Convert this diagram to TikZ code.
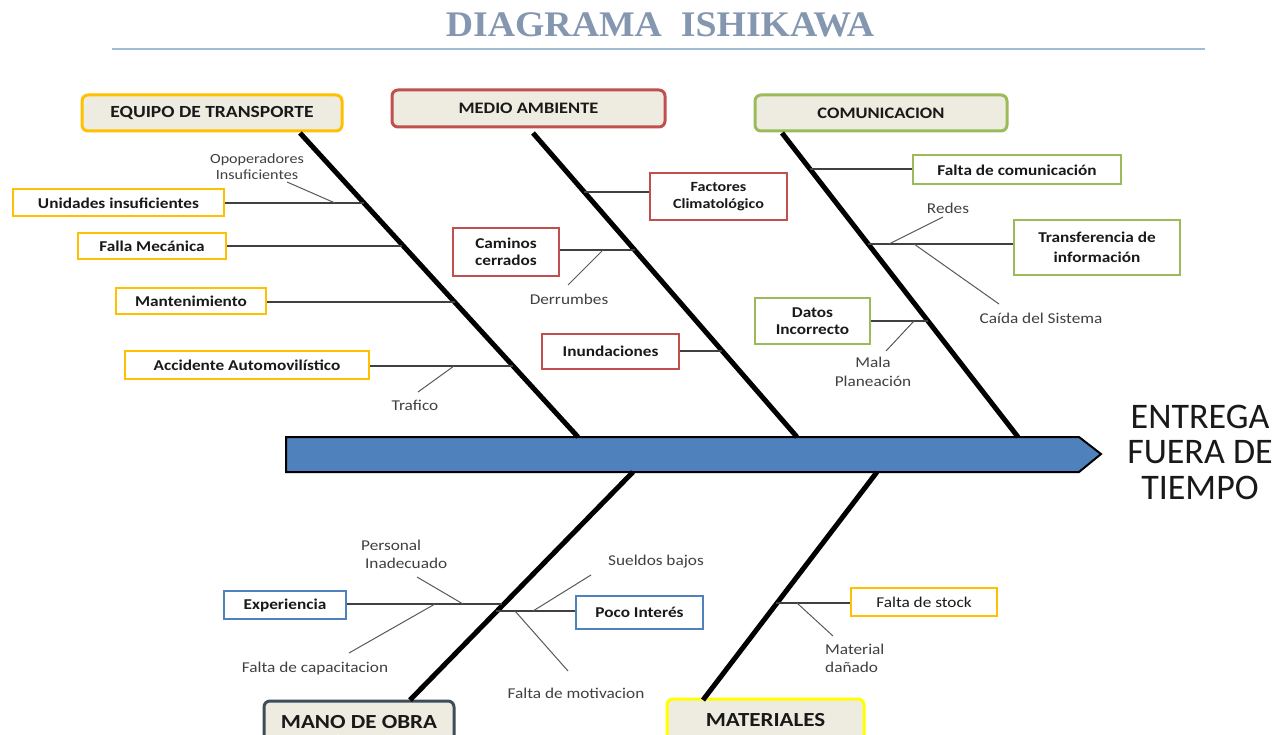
\documentclass[tikz,border=0pt]{standalone}
\usepackage{fontspec}
\setmainfont{Carlito}
\newfontfamily\lbl[FakeStretch=1.15]{Carlito}
\newfontfamily\headf{Carlito}
\newfontfamily\ttl[FakeStretch=1.05]{Liberation Serif}
\usetikzlibrary{calc}
\definecolor{beige}{HTML}{EEECE1}
\definecolor{cOrange}{HTML}{FFC000}
\definecolor{cRed}{HTML}{C0504D}
\definecolor{cGreen}{HTML}{9BBB59}
\definecolor{cBlue}{HTML}{4F81BD}
\definecolor{cSlate}{RGB}{62,76,92}
\definecolor{cYellow}{HTML}{FFFF00}
\definecolor{cTitle}{RGB}{132,150,176}
\definecolor{cRule}{RGB}{160,186,218}
\definecolor{cSpine}{HTML}{4F81BD}
\tikzset{
  hdr/.style={draw, line width=3pt, rounded corners=6pt, fill=beige, inner sep=0pt,
    font=\lbl\bfseries\fontsize{17}{20}\selectfont, text=black!90},
  cbox/.style={draw, line width=2pt, fill=white, inner sep=0pt, align=center,
    font=\lbl\bfseries\fontsize{15}{17}\selectfont, text=black!90},
  sublbl/.style={inner sep=0pt, align=center, font=\lbl\fontsize{15}{18}\selectfont, text=black!75},
  bone/.style={line width=5pt, black},
  twig/.style={line width=1.6pt, black!75},
  leaf/.style={line width=1pt, black!65}
}
\begin{document}
\begin{tikzpicture}[x=1pt,y=-1pt]
\useasboundingbox (0,0) rectangle (1288,735);
\clip (0,0) rectangle (1288,735);
\fill[white] (0,0) rectangle (1288,735);

% title
\node[text=cTitle, inner sep=0pt, font=\ttl\bfseries\fontsize{36}{36}\selectfont] (title) at (660,25) {DIAGRAMA\ \ ISHIKAWA};
\coordinate (ruleL) at (112,49);
\coordinate (ruleR) at (1205,49);
\draw[line width=2pt, cRule] (ruleL) -- (ruleR);

% spine
\draw[line width=2pt, fill=cSpine] (286,437) -- (1079,437) -- (1101,454) -- (1079,472) -- (286,472) -- cycle;
\node[inner sep=0pt, align=center, font=\headf\fontsize{36}{35.5}\selectfont, text=black!90] (effect) at (1200,452) {ENTREGA\\FUERA DE\\TIEMPO};

% headers
\node[hdr, draw=cOrange, minimum width=260pt, minimum height=36pt] (hEq) at (212,113) {EQUIPO DE TRANSPORTE};
\node[hdr, draw=cRed, minimum width=273pt, minimum height=37pt, font=\lbl\bfseries\fontsize{16}{19}\selectfont] (hMed) at (528.5,108.5) {MEDIO AMBIENTE};
\node[hdr, draw=cGreen, minimum width=252pt, minimum height=36pt, font=\lbl\bfseries\fontsize{16}{19}\selectfont] (hCom) at (881,113) {COMUNICACION};
\node[hdr, draw=cSlate, minimum width=190pt, minimum height=42pt, font=\lbl\bfseries\fontsize{20}{24}\selectfont] (hMan) at (359,722) {MANO DE OBRA};
\node[hdr, draw=cYellow, minimum width=197pt, minimum height=42pt, font=\lbl\bfseries\fontsize{20}{24}\selectfont] (hMat) at (765.5,720) {MATERIALES};

% bones
\coordinate (b1t) at (300,133); \coordinate (b1b) at (578,437);
\coordinate (b2t) at (533,133); \coordinate (b2b) at (797,437);
\coordinate (b3t) at (782,133); \coordinate (b3b) at (1018,437);
\coordinate (b4t) at (633,472); \coordinate (b4b) at (410,700);
\coordinate (b5t) at (877,472); \coordinate (b5b) at (703,700);
\draw[bone] (b1t) -- (b1b);
\draw[bone] (b2t) -- (b2b);
\draw[bone] (b3t) -- (b3b);
\draw[bone] (b4t) -- (b4b);
\draw[bone] (b5t) -- (b5b);

% ---- Equipo de transporte
\node[cbox, draw=cOrange, minimum width=211pt, minimum height=27pt] (bUni) at (118.5,203) {Unidades insuficientes};
\node[cbox, draw=cOrange, minimum width=148pt, minimum height=26pt] (bFal) at (152,246) {Falla Mecánica};
\node[cbox, draw=cOrange, minimum width=150pt, minimum height=26pt] (bMan) at (191,301) {Mantenimiento};
\node[cbox, draw=cOrange, minimum width=244pt, minimum height=27pt] (bAcc) at (247,365) {Accidente Automovilístico};
\node[sublbl, font=\lbl\fontsize{14}{16}\selectfont] (lOpo) at (257,167) {Opoperadores\\Insuficientes};
\node[sublbl] (lTraf) at (415,405) {Trafico};
\coordinate (j11) at (364,203);
\coordinate (j12) at (402,246);
\coordinate (j13) at (455,302);
\coordinate (j14) at (513,366);
\draw[twig] (j11) -- (j11 -| bUni.east);
\draw[twig] (j12) -- (j12 -| bFal.east);
\draw[twig] (j13) -- (j13 -| bMan.east);
\draw[twig] (j14) -- (j14 -| bAcc.east);
\coordinate (s11a) at (335,203); \coordinate (s11b) at (287,182);
\coordinate (s14a) at (454,366); \coordinate (s14b) at (418,392);
\draw[leaf] (s11a) -- (s11b);
\draw[leaf] (s14a) -- (s14b);

% ---- Medio ambiente
\node[cbox, draw=cRed, minimum width=137pt, minimum height=47pt, font=\lbl\bfseries\fontsize{14}{17}\selectfont] (bFac) at (718.5,196.5) {Factores\\Climatológico};
\node[cbox, draw=cRed, minimum width=106pt, minimum height=48pt] (bCam) at (506,252) {Caminos\\cerrados};
\node[cbox, draw=cRed, minimum width=137pt, minimum height=35pt] (bInu) at (610.5,351.5) {Inundaciones};
\node[sublbl] (lDer) at (569,299) {Derrumbes};
\coordinate (j21) at (584,192);
\coordinate (j22) at (635,250);
\coordinate (j23) at (722,351);
\draw[twig] (j21) -- (j21 -| bFac.west);
\draw[twig] (j22) -- (j22 -| bCam.east);
\draw[twig] (j23) -- (j23 -| bInu.east);
\coordinate (s22a) at (603,250); \coordinate (s22b) at (568,285);
\draw[leaf] (s22a) -- (s22b);

% ---- Comunicacion
\node[cbox, draw=cGreen, minimum width=208pt, minimum height=29pt] (bFdc) at (1017,170) {Falta de comunicación};
\node[cbox, draw=cGreen, minimum width=166pt, minimum height=55pt, font=\lbl\bfseries\fontsize{15}{20}\selectfont] (bTrf) at (1097,247.5) {Transferencia de\\información};
\node[cbox, draw=cGreen, minimum width=115pt, minimum height=46pt] (bDat) at (812.5,321) {Datos\\Incorrecto};
\node[sublbl] (lRed) at (948,208) {Redes};
\node[sublbl] (lCai) at (1041,318) {Caída del Sistema};
\node[sublbl, font=\lbl\fontsize{15}{19}\selectfont] (lMal) at (873,372) {Mala\\Planeación};
\coordinate (j31) at (810,169);
\coordinate (j32) at (868,244);
\coordinate (j33) at (928,321);
\draw[twig] (j31) -- (j31 -| bFdc.west);
\draw[twig] (j32) -- (j32 -| bTrf.west);
\draw[twig] (j33) -- (j33 -| bDat.east);
\coordinate (s32a) at (889,244); \coordinate (s32b) at (943,217);
\coordinate (s33a) at (914,244); \coordinate (s33b) at (999,304);
\coordinate (s34a) at (914,321); \coordinate (s34b) at (886,351);
\draw[leaf] (s32a) -- (s32b);
\draw[leaf] (s33a) -- (s33b);
\draw[leaf] (s34a) -- (s34b);

% ---- Mano de obra
\node[cbox, draw=cBlue, minimum width=122pt, minimum height=28pt] (bExp) at (285,605) {Experiencia};
\node[cbox, draw=cBlue, minimum width=127pt, minimum height=33pt] (bPoc) at (639.5,612) {Poco Interés};
\node[sublbl, align=left, anchor=west] (lPer) at (361,554) {Personal\\\ Inadecuado};
\node[sublbl] (lCap) at (315,668) {Falta de capacitacion};
\node[sublbl] (lSue) at (656,562) {Sueldos bajos};
\node[sublbl] (lMot) at (576,693) {Falta de motivacion};
\coordinate (j41) at (502,604);
\coordinate (j42) at (496,611);
\draw[twig] (j41) -- (j41 -| bExp.east);
\draw[twig] (j42) -- (j42 -| bPoc.west);
\coordinate (s41a) at (463,604); \coordinate (s41b) at (417,577);
\coordinate (s42a) at (435,604); \coordinate (s42b) at (349,653);
\coordinate (s43a) at (533,611); \coordinate (s43b) at (591,575);
\coordinate (s44a) at (515,611); \coordinate (s44b) at (568,671);
\draw[leaf] (s41a) -- (s41b);
\draw[leaf] (s42a) -- (s42b);
\draw[leaf] (s43a) -- (s43b);
\draw[leaf] (s44a) -- (s44b);

% ---- Materiales
\node[cbox, draw=cOrange, minimum width=146pt, minimum height=28pt, font=\lbl\fontsize{15}{17}\selectfont] (bSto) at (924,602) {Falta de stock};
\node[sublbl, align=left, anchor=west] (lMat) at (825,658) {Material\\dañado};
\coordinate (j51) at (776,603);
\draw[twig] (j51) -- (j51 -| bSto.west);
\coordinate (s51a) at (797,603); \coordinate (s51b) at (833,636);
\draw[leaf] (s51a) -- (s51b);
\end{tikzpicture}
\end{document}
